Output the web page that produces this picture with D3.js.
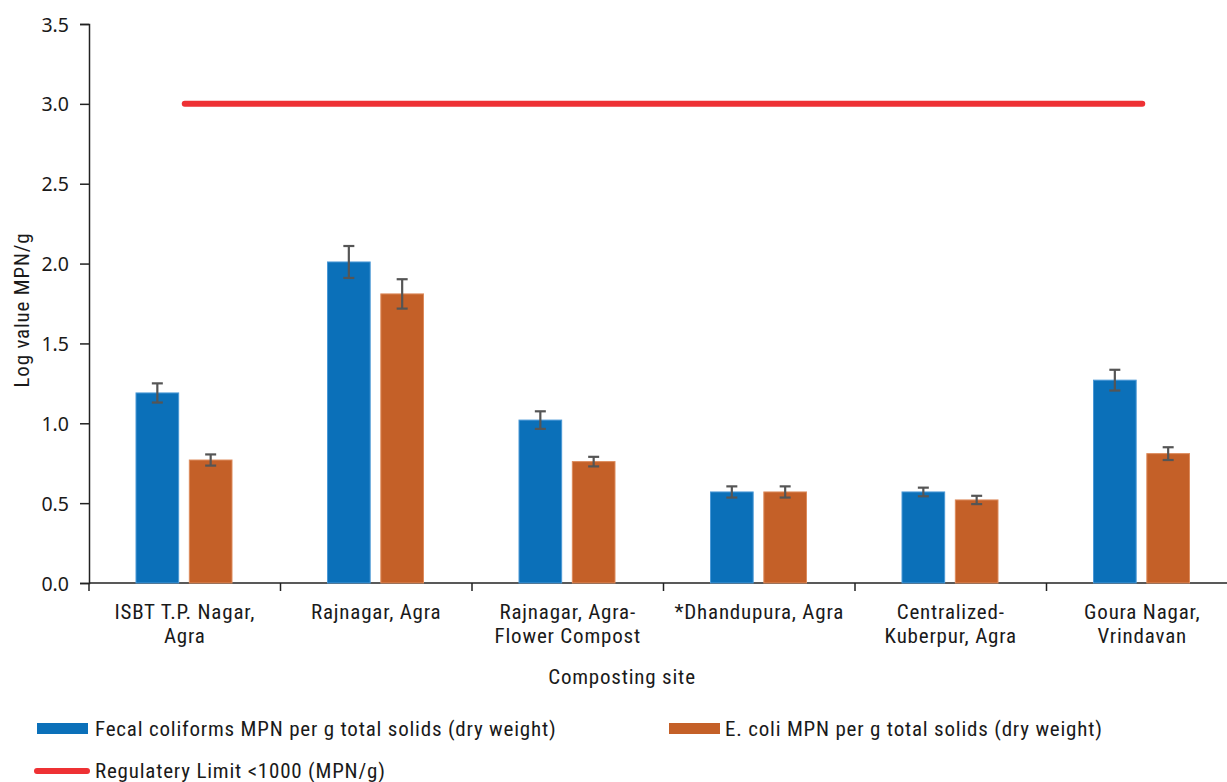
<!DOCTYPE html>
<html>
<head>
<meta charset="utf-8">
<script src="https://cdn.jsdelivr.net/npm/d3@7"></script>
<style>
  html, body { margin: 0; padding: 0; background: #fff; }
  svg { display: block; }
  .narrow { font-family: "Liberation Sans Narrow", "Arial Narrow", "Roboto Condensed", sans-serif; fill: #1a1a1a; letter-spacing: 0.8px; }
  .tick-label { font-family: "Noto Sans", "DejaVu Sans", sans-serif; fill: #1a1a1a; }
</style>
</head>
<body>
<svg id="chart" width="1227" height="782"></svg>
<script>
// Composting sites (category axis), each label split into its lines
const sites = [
  ["ISBT T.P. Nagar,", "Agra"],
  ["Rajnagar, Agra"],
  ["Rajnagar, Agra-", "Flower Compost"],
  ["*Dhandupura, Agra"],
  ["Centralized-", "Kuberpur, Agra"],
  ["Goura Nagar,", "Vrindavan"]
];
const siteKeys = sites.map(s => s.join(" "));

// Log MPN/g values and their error margins
const fecalColiforms = [1.19, 2.01, 1.02, 0.57, 0.57, 1.27];
const fecalError     = [0.06, 0.10, 0.055, 0.035, 0.027, 0.065];
const eColi          = [0.77, 1.81, 0.76, 0.57, 0.52, 0.81];
const eColiError     = [0.035, 0.092, 0.03, 0.035, 0.026, 0.04];

// Regulatory limit (log of 1000 MPN/g)
const regulatoryLimit = [3, 3, 3, 3, 3, 3];

const yTicks = [0, 0.5, 1, 1.5, 2, 2.5, 3, 3.5];

const seriesNames = [
  "Fecal coliforms MPN per g total solids (dry weight)",
  "E. coli MPN per g total solids (dry weight)"
];
const limitName = "Regulatery Limit <1000 (MPN/g)";
const seriesColors = ["#0b70b9", "#c46028"];
const seriesStroke = ["#4a98d6", "#dd8b5c"];
const limitColor = "#ee3134";

const svg = d3.select("#chart");

const x0 = d3.scaleBand().domain(siteKeys).range([89, 1238]).padding(0);
const x1 = d3.scaleBand().domain([0, 1]).range([47, 143]).paddingInner(0.2);
const y = d3.scaleLinear().domain([0, 3.5]).range([583, 24]);

// Y axis
const yAxis = svg.append("g").attr("transform", "translate(89,0)")
  .call(d3.axisLeft(y).tickValues(yTicks).tickFormat(d3.format(".1f")).tickSize(9).tickPadding(11));
yAxis.select(".domain").attr("stroke", "#222").attr("stroke-width", 1.5);
yAxis.selectAll(".tick line").attr("stroke", "#222").attr("stroke-width", 1.5);
yAxis.selectAll(".tick text").attr("class", "tick-label").attr("font-size", 19.5).attr("dy", "0.36em");

// X axis line with ticks at the band edges
const xBase = svg.append("g");
xBase.append("line").attr("x1", 89).attr("x2", 1227).attr("y1", y(0)).attr("y2", y(0))
  .attr("stroke", "#222").attr("stroke-width", 1.5);
xBase.selectAll("line.edge").data(siteKeys).join("line").attr("class", "edge")
  .attr("x1", d => x0(d)).attr("x2", d => x0(d))
  .attr("y1", y(0)).attr("y2", y(0) + 8)
  .attr("stroke", "#222").attr("stroke-width", 1.5);

// Category labels
const catLabels = svg.append("g");
sites.forEach((lines, i) => {
  const cx = x0(siteKeys[i]) + x0.bandwidth() / 2;
  const t = catLabels.append("text").attr("class", "narrow")
    .attr("x", cx).attr("y", 619).attr("text-anchor", "middle").attr("font-size", 21);
  lines.forEach((ln, j) => {
    t.append("tspan").attr("x", cx).attr("dy", j === 0 ? 0 : 23.5).text(ln);
  });
});

// Bars
const seriesVals = [fecalColiforms, eColi];
const seriesErr = [fecalError, eColiError];
seriesVals.forEach((vals, s) => {
  svg.append("g").selectAll("rect").data(vals).join("rect")
    .attr("x", (d, i) => x0(siteKeys[i]) + x1(s))
    .attr("width", x1.bandwidth())
    .attr("y", d => y(d))
    .attr("height", d => y(0) - y(d))
    .attr("fill", seriesColors[s])
    .attr("stroke", seriesStroke[s]).attr("stroke-width", 1);
});

// Error bars
seriesVals.forEach((vals, s) => {
  const g = svg.append("g").attr("stroke", "#555").attr("stroke-width", 2.2);
  vals.forEach((v, i) => {
    const cx = x0(siteKeys[i]) + x1(s) + x1.bandwidth() / 2;
    const e = seriesErr[s][i];
    g.append("line").attr("x1", cx).attr("x2", cx).attr("y1", y(v + e)).attr("y2", y(v - e));
    g.append("line").attr("x1", cx - 5.5).attr("x2", cx + 5.5).attr("y1", y(v + e)).attr("y2", y(v + e));
    g.append("line").attr("x1", cx - 5.5).attr("x2", cx + 5.5).attr("y1", y(v - e)).attr("y2", y(v - e));
  });
});

// Regulatory limit line
const limitLine = d3.line()
  .x((d, i) => x0(siteKeys[i]) + x0.bandwidth() / 2)
  .y(d => y(d));
svg.append("path").datum(regulatoryLimit)
  .attr("d", limitLine).attr("fill", "none")
  .attr("stroke", limitColor).attr("stroke-width", 6).attr("stroke-linecap", "round");

// Axis titles
svg.append("text").attr("class", "narrow").attr("font-size", 21)
  .attr("text-anchor", "middle")
  .attr("transform", "translate(29,310) rotate(-90)")
  .text("Log value MPN/g");
svg.append("text").attr("class", "narrow").attr("font-size", 21)
  .attr("text-anchor", "middle").attr("x", 622).attr("y", 684)
  .text("Composting site");

// Legend
const legend = svg.append("g");
const swatchX = [37, 669];
const textX = [95, 725];
seriesNames.forEach((name, s) => {
  legend.append("rect").attr("x", swatchX[s]).attr("y", 723).attr("width", 51).attr("height", 11)
    .attr("fill", seriesColors[s]);
  legend.append("text").attr("class", "narrow").attr("font-size", 21)
    .attr("x", textX[s]).attr("y", 736).text(name);
});
legend.append("line").attr("x1", 37).attr("x2", 87).attr("y1", 771).attr("y2", 771)
  .attr("stroke", limitColor).attr("stroke-width", 6).attr("stroke-linecap", "round");
legend.append("text").attr("class", "narrow").attr("font-size", 21)
  .attr("x", 95).attr("y", 778).text(limitName);
</script>
</body>
</html>
